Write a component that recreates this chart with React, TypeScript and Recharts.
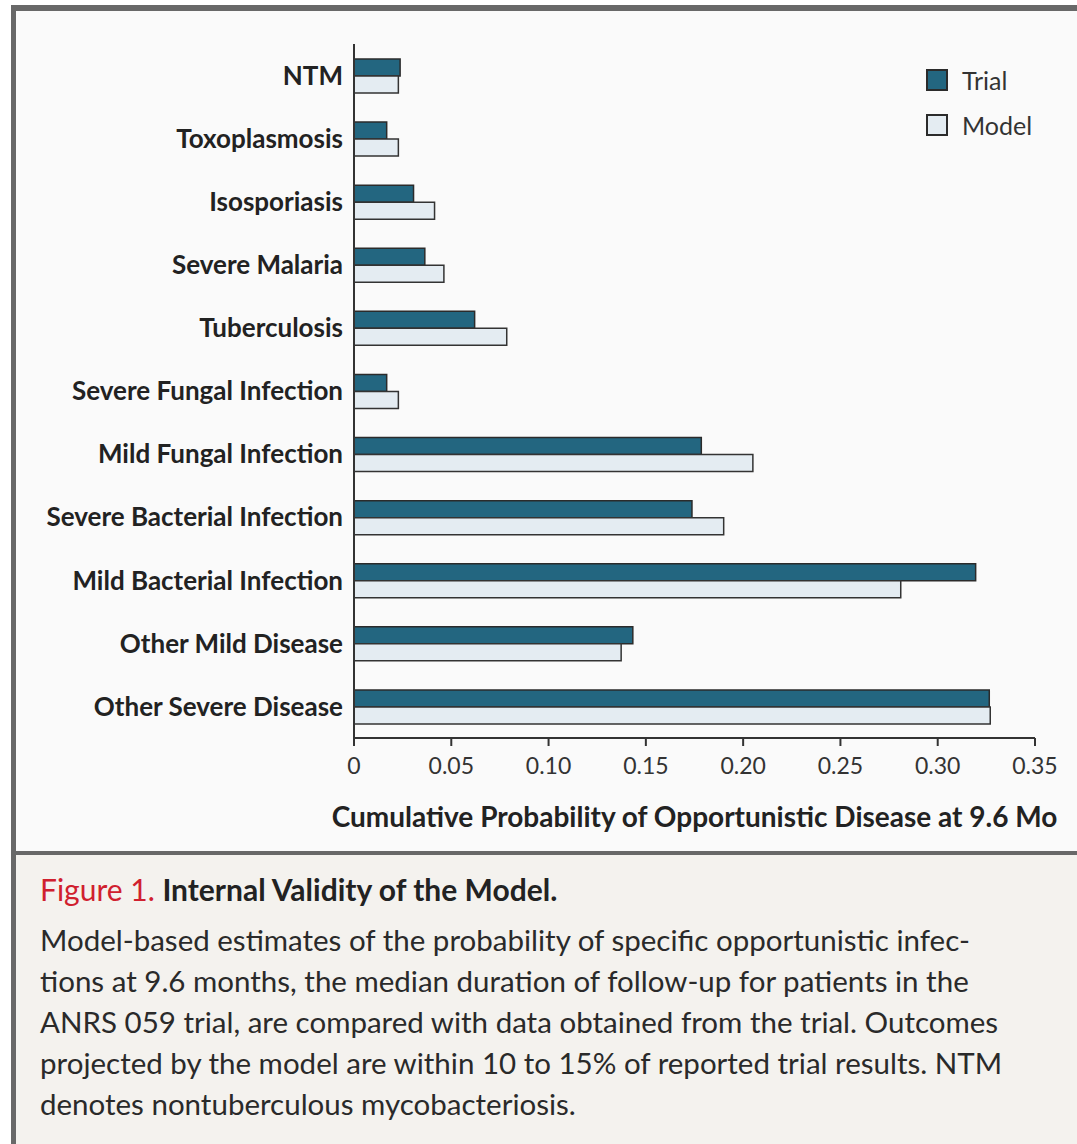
import React from 'react';
import { BarChart, Bar, XAxis, YAxis, Label } from 'recharts';

const categories = [
  'NTM',
  'Toxoplasmosis',
  'Isosporiasis',
  'Severe Malaria',
  'Tuberculosis',
  'Severe Fungal Infection',
  'Mild Fungal Infection',
  'Severe Bacterial Infection',
  'Mild Bacterial Infection',
  'Other Mild Disease',
  'Other Severe Disease',
];
const trialValues = [0.0237, 0.0168, 0.0306, 0.0364, 0.062, 0.0168, 0.1785, 0.1737, 0.3195, 0.1433, 0.3265];
const modelValues = [0.0228, 0.0228, 0.0414, 0.0462, 0.0785, 0.0228, 0.205, 0.19, 0.281, 0.1373, 0.327];
const xTicks = [0, 0.05, 0.1, 0.15, 0.2, 0.25, 0.3, 0.35];

const TRIAL_COLOR = '#236680';
const MODEL_COLOR = '#e4ecf2';
const FONT = 'Lato, "Open Sans", sans-serif';

const data = categories.map((name, i) => ({ name, trial: trialValues[i], model: modelValues[i] }));

const legendItems = [
  { label: 'Trial', color: TRIAL_COLOR },
  { label: 'Model', color: MODEL_COLOR },
];

const captionLines = [
  'Model-based estimates of the probability of specific opportunistic infec-',
  'tions at 9.6 months, the median duration of follow-up for patients in the',
  'ANRS 059 trial, are compared with data obtained from the trial. Outcomes',
  'projected by the model are within 10 to 15% of reported trial results. NTM',
  'denotes nontuberculous mycobacteriosis.',
];

export default function App() {
  return (
    <div style={{ position: 'absolute', left: 0, top: 0, width: 1077, height: 1144, background: '#fff', overflow: 'hidden' }}>
      {/* frame */}
      <div style={{ position: 'absolute', left: 11, top: 5, width: 1100, height: 1200, background: '#686868' }} />
      <div style={{ position: 'absolute', left: 16, top: 11, width: 1100, height: 840, background: '#fafafa' }} />
      <div style={{ position: 'absolute', left: 16, top: 855, width: 1100, height: 400, background: '#f4f2ee' }} />

      <div style={{ position: 'absolute', left: 0, top: 0 }}>
        <BarChart
          width={1077}
          height={850}
          data={data}
          layout="vertical"
          margin={{ top: 44, right: 42, bottom: 12, left: 0 }}
          barSize={17}
          barGap={0}
        >
          <XAxis
            type="number"
            domain={[0, 0.35]}
            ticks={xTicks}
            tickFormatter={(v: number) => (v === 0 ? '0' : v.toFixed(2))}
            axisLine={{ stroke: '#333', strokeWidth: 2 }}
            tickLine={{ stroke: '#333', strokeWidth: 2 }}
            tickSize={8}
            tickMargin={12}
            tick={{ fill: '#333', fontSize: 23, fontFamily: FONT }}
            height={100}
          >
            <Label
              value="Cumulative Probability of Opportunistic Disease at 9.6 Mo"
              position="insideBottom"
              offset={11}
              style={{ fill: '#222', fontSize: 28, fontWeight: 700, fontFamily: FONT }}
            />
          </XAxis>
          <YAxis
            type="category"
            dataKey="name"
            width={354}
            axisLine={{ stroke: '#333', strokeWidth: 2 }}
            tickLine={false}
            tickSize={0}
            tickMargin={11}
            interval={0}
            tick={{ fill: '#222', fontSize: 26, fontWeight: 700, fontFamily: FONT }}
          />
          <Bar dataKey="trial" name="Trial" fill={TRIAL_COLOR} stroke="#2b2b2b" strokeWidth={1.5} isAnimationActive={false} />
          <Bar dataKey="model" name="Model" fill={MODEL_COLOR} stroke="#333" strokeWidth={1.5} isAnimationActive={false} />
        </BarChart>
      </div>

      {/* legend */}
      <div style={{ position: 'absolute', left: 926, top: 57, fontFamily: FONT }}>
        {legendItems.map((it) => (
          <div key={it.label} style={{ display: 'flex', alignItems: 'center', height: 45 }}>
            <div style={{ width: 18, height: 18, background: it.color, border: '2px solid #2b2b2b', marginRight: 14 }} />
            <span style={{ fontSize: 25, color: '#333' }}>{it.label}</span>
          </div>
        ))}
      </div>

      <div style={{ position: 'absolute', left: 40, top: 868, fontFamily: FONT, color: '#222' }}>
        <div style={{ fontSize: 30, lineHeight: '42px' }}>
          <span style={{ color: '#d0202e' }}>Figure 1. </span>
          <span style={{ fontWeight: 700 }}>Internal Validity of the Model.</span>
        </div>
        <div style={{ fontSize: 29.5, lineHeight: '41px', marginTop: 9, color: '#2a2a2a' }}>
          {captionLines.map((l, i) => (
            <div key={i} style={{ whiteSpace: 'nowrap' }}>{l}</div>
          ))}
        </div>
      </div>
    </div>
  );
}
